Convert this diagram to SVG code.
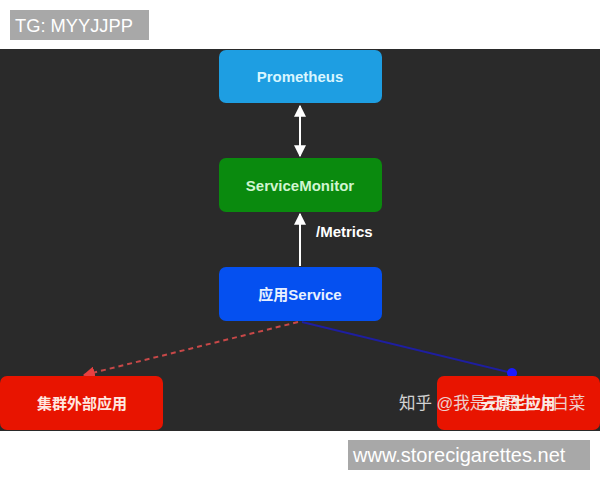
<svg xmlns="http://www.w3.org/2000/svg" width="600" height="480" viewBox="0 0 600 480">
<defs>
<style>
.lbl{font-family:"Liberation Sans","Noto Sans CJK SC",sans-serif;font-weight:bold;font-size:15px;text-anchor:middle;dominant-baseline:central}
.tag{font-family:"Liberation Sans",sans-serif;fill:#ffffff}
.node{stroke:none}
</style>
<marker id="aw" viewBox="0 0 10 10" refX="9" refY="5" markerWidth="6" markerHeight="6" orient="auto-start-reverse"><path d="M0,0 L10,5 L0,10 z" fill="#ffffff"/></marker>
<marker id="ar" viewBox="0 0 10 10" refX="9" refY="5" markerWidth="6" markerHeight="6" orient="auto"><path d="M0,0 L10,5 L0,10 z" fill="#e84040"/></marker>
<marker id="ab" viewBox="0 0 10 10" refX="5" refY="5" markerWidth="5" markerHeight="5" orient="auto"><circle cx="5" cy="5" r="5" fill="#1a1aff"/></marker>
</defs>
<rect width="600" height="480" fill="#ffffff"/>
<rect x="0" y="49" width="600" height="382" fill="#2a2a2a"/>
<g id="connectors">
<line x1="300" y1="106" x2="300" y2="156" stroke="#ffffff" stroke-width="2" marker-start="url(#aw)" marker-end="url(#aw)"/>
<line x1="300" y1="266" x2="300" y2="214" stroke="#ffffff" stroke-width="2" marker-end="url(#aw)"/>
<text x="316" y="237" style="font-family:'Liberation Sans',sans-serif;font-weight:bold;font-size:15px;fill:#ffffff">/Metrics</text>
<line x1="298" y1="322" x2="84" y2="375" stroke="#c84848" stroke-width="2" stroke-dasharray="5,4" marker-end="url(#ar)"/>
<line x1="302" y1="322" x2="512" y2="373" stroke="#1e1ea0" stroke-width="2" marker-end="url(#ab)"/>
</g>
<g id="prometheus"><rect class="node" x="219" y="50" width="163" height="53" rx="7" fill="#1e9ee2"/><text class="lbl" x="300" y="76" fill="#d8f6ff">Prometheus</text></g>
<g id="servicemonitor"><rect class="node" x="219" y="158" width="163" height="54" rx="7" fill="#0a8a0e"/><text class="lbl" x="300" y="185" fill="#d0f5d0">ServiceMonitor</text></g>
<g id="app-service"><rect class="node" x="219" y="267" width="163" height="54" rx="7" fill="#0550f0"/><text class="lbl" x="300" y="294" fill="#e8f0ff">应用Service</text></g>
<g id="external-app"><rect class="node" x="0" y="376" width="163" height="54" rx="7" fill="#e81400"/><text class="lbl" x="82" y="403" fill="#ffe8e0">集群外部应用</text></g>
<g id="cloud-native-app"><rect class="node" x="437" y="376" width="163" height="54" rx="7" fill="#e81400"/><text class="lbl" x="518" y="403" fill="#ffe8e0">云原生应用</text></g>
<text x="399" y="409" style="font-family:'Liberation Sans','Noto Sans CJK SC',sans-serif;font-size:16.5px;fill:#f0f0f0;opacity:0.85">知乎 @我是云原生小白菜</text>
<rect x="10" y="10" width="139" height="30" fill="#a8a8a8"/>
<text class="tag" x="15" y="32" font-size="18.3">TG: MYYJJPP</text>
<rect x="348" y="440" width="242" height="30" fill="#a8a8a8"/>
<text class="tag" x="353" y="462" font-size="20">www.storecigarettes.net</text>
</svg>
